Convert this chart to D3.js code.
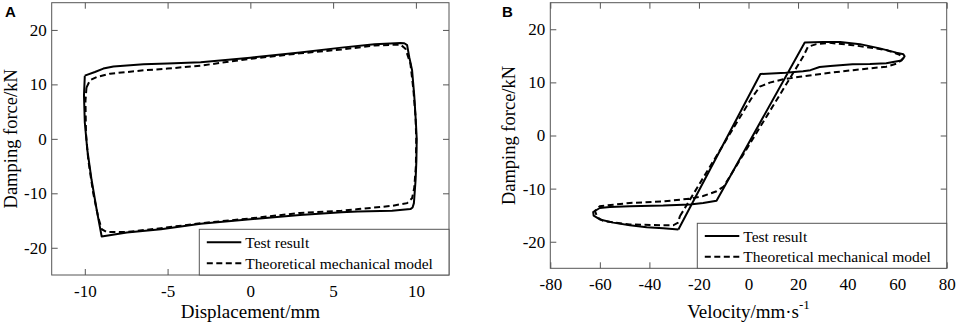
<!DOCTYPE html>
<html>
<head>
<meta charset="utf-8">
<script src="https://cdn.jsdelivr.net/npm/d3@7"></script>
<style>
  body { margin: 0; background: #fff; }
  svg { display: block; }
  text { font-family: "Times New Roman", "Liberation Serif", serif; fill: #000; }
</style>
</head>
<body>
<svg width="957" height="326"></svg>
<script>
(function () {

  // ---- data ----
  // panel A : displacement (mm) vs damping force (kN)
  var dispTest = [-10.0, -9.39, -8.88, -8.27, -6.45, -5.0, -3.0, 0, 3.0, 5.5, 7.5, 9.07, 9.3, 9.47, 9.6, 9.77, 9.9, 10.0, 10.05, 10.03, 9.98, 9.9, 9.88, 9.8, 9.67, 8.56, 6.5, 5.5, 3.0, 0, -3.0, -5.4, -7.46, -8.98, -9.28, -9.59, -9.85, -10.0, -10.05, -10.0]
  var forceTestA = [11.6, 12.27, 12.9, 13.3, 13.68, 13.85, 14.05, 14.9, 15.85, 16.75, 17.35, 17.6, 17.55, 17.2, 15.0, 12.6, 8.0, 3.0, 0, -4.0, -7.6, -11.0, -11.8, -12.6, -12.9, -13.2, -13.36, -13.5, -13.97, -14.77, -15.6, -16.6, -17.2, -17.95, -13.06, -7.56, -2.0, 3.0, 8.0, 11.6]

  var dispModel = [-9.9, -9.69, -9.28, -8.47, -6.45, -5.0, -3.0, 0, 3.0, 5.5, 7.54, 9.07, 9.37, 9.67, 9.85, 9.98, 10.02, 10.0, 9.9, 9.77, 9.47, 8.56, 6.53, 5.5, 3.0, 0, -3.0, -5.4, -7.46, -8.67, -8.98, -9.18, -9.49, -9.79, -9.93, -9.96, -9.9]
  var forceModelA = [9.4, 10.75, 11.36, 11.97, 12.58, 12.9, 13.45, 14.7, 15.7, 16.4, 17.16, 17.3, 16.55, 13.8, 9.0, 4.0, 0, -5.0, -9.0, -10.9, -11.8, -12.3, -12.9, -13.2, -13.6, -14.6, -15.5, -16.4, -17.1, -17.1, -16.6, -14.5, -10.0, -3.9, 1.0, 7.0, 9.4]

  // panel B : velocity (mm/s) vs damping force (kN)
  var velTest = [-28.3, 4.8, 15, 22, 25, 28.7, 33, 42, 49, 55.6, 61.7, 63, 62.5, 59.7, 53, 45, 37, 30, 22.7, -12.9, -18.3, -23.7, -34.4, -47.9, -56, -60, -62.7, -62.5, -60, -54.6, -47.9, -41.1, -34.4, -28.3]
  var forceTestB = [-17.7, 11.58, 11.8, 12.1, 12.3, 12.9, 13.1, 13.4, 13.45, 13.6, 14.1, 14.9, 15.3, 15.6, 16.4, 17.2, 17.6, 17.6, 17.5, -12.3, -12.7, -13.0, -13.2, -13.3, -13.45, -13.65, -14.4, -15.1, -15.8, -16.4, -16.9, -17.25, -17.45, -17.7]

  var velModel = [-27.7, 1.2, 4.6, 8.6, 14, 20.7, 32.8, 42.2, 55.6, 60.3, 62.4, 61, 55.6, 42.2, 32.8, 27.4, 24, 22, -10.0, -12.9, -18.3, -23.7, -34.4, -47.9, -60, -62, -61, -58.6, -47.9, -34.4, -30.4, -28.4, -27.7]
  var forceModelB = [-15.2, 7.0, 9.2, 9.95, 10.6, 11.07, 11.8, 12.3, 12.95, 13.6, 14.5, 15.2, 16.1, 17.0, 17.45, 17.2, 16.7, 14.8, -9.6, -10.5, -11.4, -11.9, -12.4, -12.7, -13.3, -14.2, -15.4, -16.1, -16.75, -16.9, -16.9, -16.4, -15.2]

  var dispTicks = [-10, -5, 0, 5, 10]
  var velTicks = [-80, -60, -40, -20, 0, 20, 40, 60, 80]
  var forceTicks = [-20, -10, 0, 10, 20]
  var seriesNames = ['Test result', 'Theoretical mechanical model']

  var svg = d3.select('svg')

  function zip(xs, ys) {
    return xs.map(function (d, i) { return [d, ys[i]] })
  }

  function panel(opt) {
    var x = d3.scaleLinear().domain(opt.xDomain).range([opt.left, opt.right])
    var y = d3.scaleLinear().domain([-25, 25]).range([opt.bottom, opt.top])
    var g = svg.append('g')
    var fmt = function (d) { return String(d) }

    // curves
    var line = d3.line().x(function (d) { return x(d[0]) }).y(function (d) { return y(d[1]) })
    g.append('path').datum(opt.model)
      .attr('d', line).attr('fill', 'none').attr('stroke', '#000')
      .attr('stroke-width', 2).attr('stroke-dasharray', '6,3.5')
    g.append('path').datum(opt.test)
      .attr('d', line).attr('fill', 'none').attr('stroke', '#000')
      .attr('stroke-width', 2).attr('stroke-linejoin', 'round')

    // axes, MATLAB style box with ticks pointing in
    var ax = [
      d3.axisBottom(x).tickValues(opt.xTicks).tickFormat(fmt).tickSize(-6).tickPadding(10),
      d3.axisTop(x).tickValues(opt.xTicks).tickFormat('').tickSize(-6),
      d3.axisLeft(y).tickValues(forceTicks).tickFormat(fmt).tickSize(-6).tickPadding(5),
      d3.axisRight(y).tickValues(forceTicks).tickFormat('').tickSize(-6)
    ]
    var pos = [[0, opt.bottom], [0, opt.top], [opt.left, 0], [opt.right, 0]]
    ax.forEach(function (a, i) {
      var ag = g.append('g').attr('transform', 'translate(' + pos[i] + ')').call(a)
      ag.select('.domain').remove()
      ag.selectAll('line').attr('stroke', '#555')
      ag.selectAll('text').attr('font-size', 17)
        .style('font-family', '"Times New Roman", "Liberation Serif", serif')
    })
    g.append('rect')
      .attr('x', opt.left).attr('y', opt.top)
      .attr('width', opt.right - opt.left).attr('height', opt.bottom - opt.top)
      .attr('fill', 'none').attr('stroke', '#555')

    // axis labels
    var xl = g.append('text')
      .attr('x', (opt.left + opt.right) / 2).attr('y', 318)
      .attr('text-anchor', 'middle').attr('font-size', 19)
      .text(opt.xLabel)
    if (opt.xSup) {
      xl.append('tspan').attr('dy', -9).attr('font-size', 13).text(opt.xSup)
    }
    g.append('text')
      .attr('transform', 'translate(' + opt.yLabelX + ',' + (opt.top + opt.bottom) / 2 + ') rotate(-90)')
      .attr('text-anchor', 'middle').attr('font-size', 18.5)
      .text('Damping force/kN')

    // panel letter
    g.append('text')
      .attr('x', opt.letterX).attr('y', 17)
      .style('font-family', 'Arial, "Liberation Sans", sans-serif')
      .attr('font-weight', 'bold').attr('font-size', 15)
      .text(opt.letter)

    // legend
    var lg = opt.legend
    g.append('rect')
      .attr('x', lg.x0).attr('y', lg.y0)
      .attr('width', opt.right - lg.x0).attr('height', opt.bottom - lg.y0)
      .attr('fill', '#fff').attr('stroke', '#555')
    seriesNames.forEach(function (name, i) {
      var ly = lg.rows[i]
      g.append('line')
        .attr('x1', lg.x0 + 7.5).attr('x2', lg.x0 + 42)
        .attr('y1', ly).attr('y2', ly)
        .attr('stroke', '#000').attr('stroke-width', 2)
        .attr('stroke-dasharray', i ? '6,3.5' : null)
      g.append('text')
        .attr('x', lg.x0 + 46).attr('y', ly + 5.5)
        .attr('font-size', 15.5)
        .text(name)
    })
  }

  panel({
    left: 51.7, right: 449, top: 2.7, bottom: 275,
    xDomain: [-12, 12], xTicks: dispTicks,
    test: zip(dispTest, forceTestA), model: zip(dispModel, forceModelA),
    xLabel: 'Displacement/mm', yLabelX: 17, letter: 'A', letterX: 5,
    legend: { x0: 199.3, y0: 229.3, rows: [242.3, 263.3] }
  })

  panel({
    left: 550.3, right: 946.7, top: 2.7, bottom: 268.3,
    xDomain: [-80, 80], xTicks: velTicks,
    test: zip(velTest, forceTestB), model: zip(velModel, forceModelB),
    xLabel: 'Velocity/mm·s', xSup: '-1', yLabelX: 515, letter: 'B', letterX: 502,
    legend: { x0: 697.3, y0: 223.3, rows: [236, 256.7] }
  })

})()
</script>
</body>
</html>
